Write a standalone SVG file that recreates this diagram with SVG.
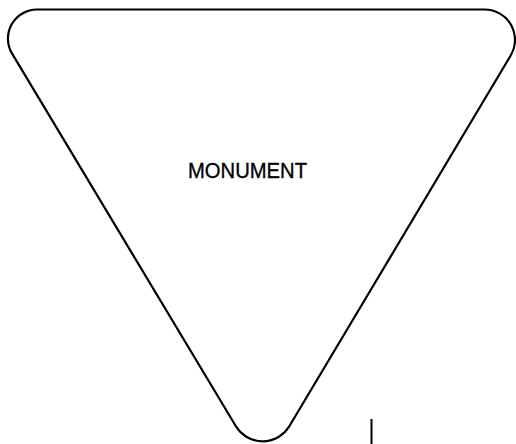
<svg xmlns="http://www.w3.org/2000/svg" width="516" height="444" viewBox="0 0 516 444">
<style>
.outline{fill:#fff;stroke:#000;stroke-width:2.2;stroke-linejoin:round}
.lbl{font-family:"Liberation Sans",Arial,sans-serif;font-size:22.5px;fill:#000;stroke:#000;stroke-width:0.35}
.tick{stroke:#000;stroke-width:2;fill:none}
</style>
<rect width="516" height="444" fill="#fff"/>
<g id="monument">
<path class="outline" d="M 37.1,9.5 L 484.6,9.5 A 30.4 30.4 0 0 1 510.7,55.5 L 289.3,426.3 A 31.2 31.2 0 0 1 235.9,426.3 L 12.1,53.6 A 29.1 29.1 0 0 1 37.1,9.5 Z"/>
<text class="lbl" x="188" y="178" textLength="119" lengthAdjust="spacingAndGlyphs">MONUMENT</text>
</g>
<g id="connectors">
<line class="tick" x1="371.5" y1="419" x2="371.5" y2="444"/>
</g>
</svg>
